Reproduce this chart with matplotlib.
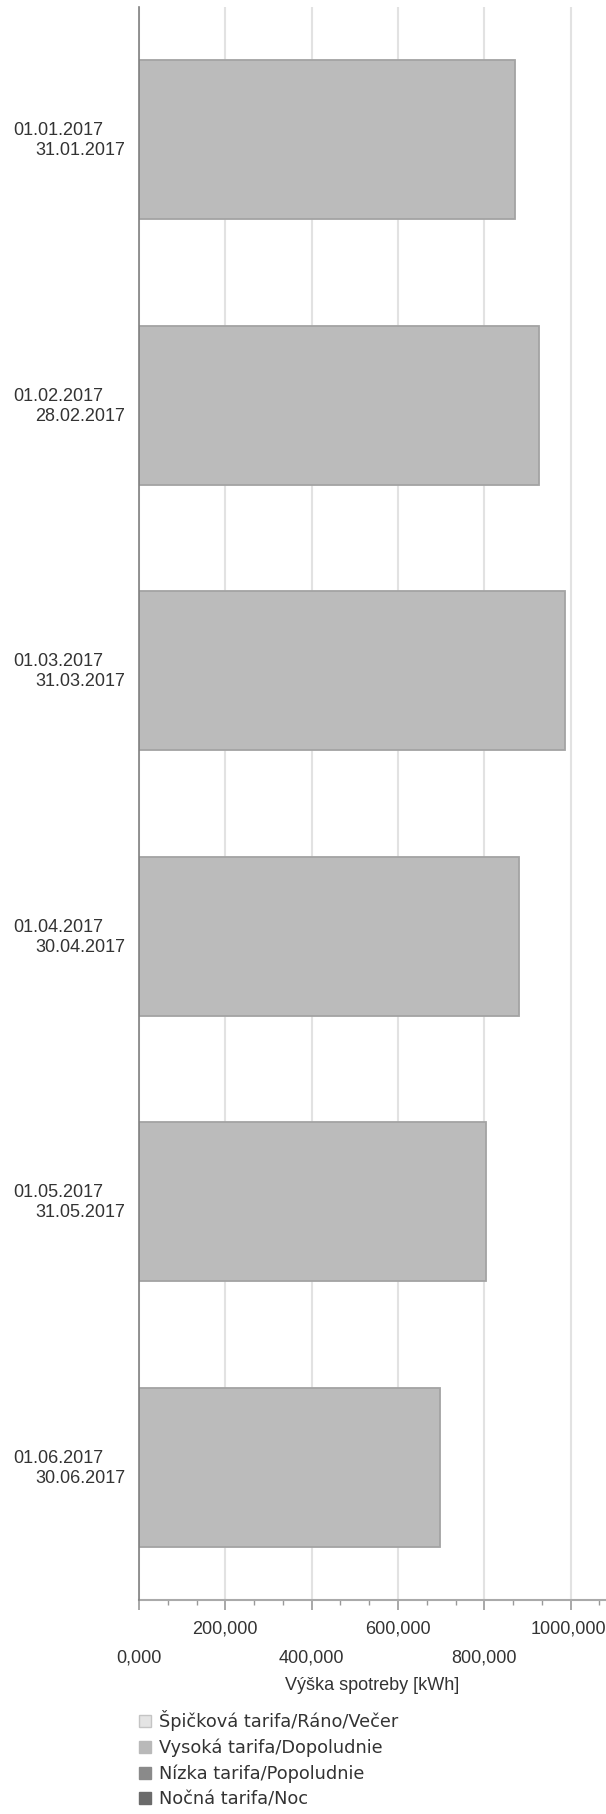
import matplotlib.pyplot as plt
from matplotlib.patches import Patch
from matplotlib.ticker import MultipleLocator, AutoMinorLocator

plt.rcParams['font.family'] = ['Liberation Sans', 'DejaVu Sans']

# period start / end and consumption (kWh)
start_dates = ['01.01.2017', '01.02.2017', '01.03.2017', '01.04.2017', '01.05.2017', '01.06.2017']
end_dates = ['31.01.2017', '28.02.2017', '31.03.2017', '30.04.2017', '31.05.2017', '30.06.2017']
values = [872000, 926000, 988000, 880000, 805000, 698000]

ticks = [0, 200000, 400000, 600000, 800000, 1000000]
tick_labels = ['0,000', '200,000', '400,000', '600,000', '800,000', '1000,000']

legend_labels = ['Špičková tarifa/Ráno/Večer', 'Vysoká tarifa/Dopoludnie',
                 'Nízka tarifa/Popoludnie', 'Nočná tarifa/Noc']
legend_colors = ['#e4e4e4', '#b9b9b9', '#8a8a8a', '#6b6b6b']

txt = '#333333'
fs = 13.0

W, H = 606, 1814
fig = plt.figure(figsize=(W / 100, H / 100), dpi=100)
ax = fig.add_axes([139 / W, (H - 1600) / H, (W - 139) / W, (1600 - 7) / H])

pos = list(range(len(values)))
ax.barh(pos, values, height=0.6, color='#bbbbbb', edgecolor='#a3a3a3', linewidth=1.3, zorder=3)

ax.set_ylim(5.5, -0.5)
ax.set_xlim(0, 1082000)

ax.xaxis.set_major_locator(MultipleLocator(200000))
ax.xaxis.set_minor_locator(AutoMinorLocator(3))
ax.set_xticklabels([])
ax.set_yticks([])
ax.tick_params(axis='x', which='major', length=7.5, width=1.2, color='#999999', direction='out')
ax.tick_params(axis='x', which='minor', length=3.8, width=1.0, color='#999999', direction='out')
ax.grid(axis='x', which='major', color='#e2e2e2', linewidth=1.5, zorder=0)

for s in ['top', 'right']:
    ax.spines[s].set_visible(False)
ax.spines['left'].set_color('#808080')
ax.spines['left'].set_linewidth(1.2)
ax.spines['left'].set_zorder(4)
ax.spines['bottom'].set_color('#aaaaaa')
ax.spines['bottom'].set_linewidth(1.5)

# alternating tick label rows
for i, (t, lab) in enumerate(zip(ticks, tick_labels)):
    dy = -20.9 if i % 2 else -41.5
    dx = -1.5 if i == len(ticks) - 1 else 0
    ax.annotate(lab, xy=(t, 0), xycoords=('data', 'axes fraction'), xytext=(dx, dy),
                textcoords='offset points', ha='center', va='center', fontsize=fs, color=txt,
                annotation_clip=False)

ax.annotate('Výška spotreby [kWh]', xy=(0.5, 0), xycoords='axes fraction',
            xytext=(0, -61.5), textcoords='offset points', ha='center', va='center',
            fontsize=fs, color=txt, annotation_clip=False)

for p, a, b in zip(pos, start_dates, end_dates):
    ax.annotate(a, xy=(0, p), xycoords=('axes fraction', 'data'), xytext=(-25.5, 6.5),
                textcoords='offset points', ha='right', va='center', fontsize=fs, color=txt,
                annotation_clip=False)
    ax.annotate(b, xy=(0, p), xycoords=('axes fraction', 'data'), xytext=(-10, -8),
                textcoords='offset points', ha='right', va='center', fontsize=fs, color=txt,
                annotation_clip=False)

handles = [Patch(facecolor=c, edgecolor='#c4c4c4' if i == 0 else c, linewidth=1)
           for i, c in enumerate(legend_colors)]
fig.legend(handles, legend_labels, loc='upper left', bbox_to_anchor=(139 / W, (H - 1710) / H),
           frameon=False, prop={'family': 'DejaVu Sans', 'size': 12.8},
           handlelength=0.65, handleheight=0.65, handletextpad=0.45,
           labelspacing=0.42, borderpad=0, borderaxespad=0, labelcolor=txt)

fig.savefig('out.png', dpi=100)
